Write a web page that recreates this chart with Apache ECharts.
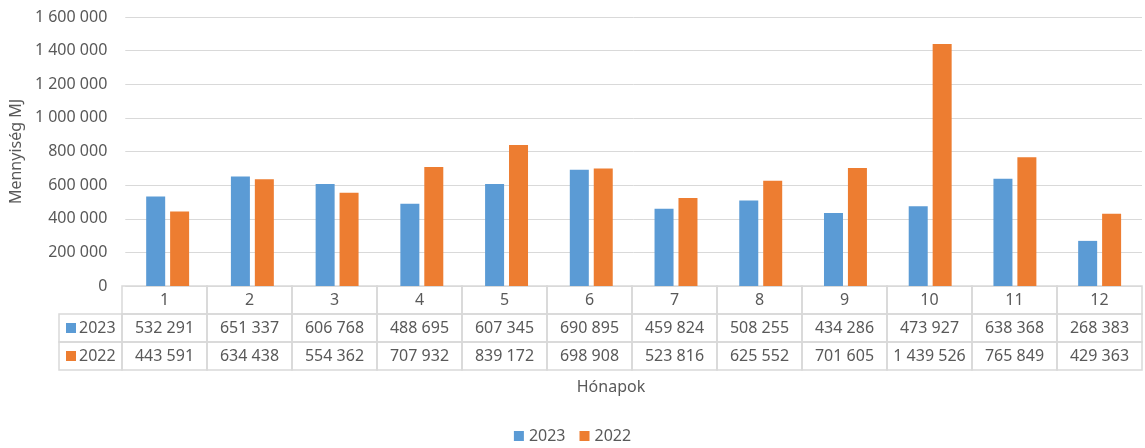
<!DOCTYPE html>
<html><head><meta charset="utf-8">
<script src="https://cdn.jsdelivr.net/npm/echarts@6/dist/echarts.min.js"></script>
<style>html,body{margin:0;padding:0;background:#fff}#c{width:1145px;height:448px}</style>
</head><body><div id="c"></div>
<script>
const months = ['1','2','3','4','5','6','7','8','9','10','11','12'];
const values2023 = [532291, 651337, 606768, 488695, 607345, 690895, 459824, 508255, 434286, 473927, 638368, 268383];
const values2022 = [443591, 634438, 554362, 707932, 839172, 698908, 523816, 625552, 701605, 1439526, 765849, 429363];
const seriesNames = ['2023', '2022'];
const yTicks = { min: 0, max: 1600000, interval: 200000 };

const FONT = 'Noto Sans';
const TXT = '#595959';
const GRID = '#d9d9d9';
const COLORS = ['#5B9BD5', '#ED7D31'];
const FS = 16;

function fmt(v) { return String(v).replace(/\B(?=(\d{3})+(?!\d))/g, ' '); }

const tableItems = [];
const tableTexts = [];
months.forEach((m, i) => {
  tableItems.push([i, 0]); tableTexts.push(m);
  tableItems.push([i, 1]); tableTexts.push(fmt(values2023[i]));
  tableItems.push([i, 2]); tableTexts.push(fmt(values2022[i]));
});

const chart = echarts.init(document.getElementById('c'));
chart.setOption({
  animation: false,
  textStyle: { fontFamily: FONT },
  grid: [
    { left: 122, right: 3, top: 17, bottom: 162 },
    { left: 122, right: 3, top: 286, height: 84 }
  ],
  title: {
    text: 'Hónapok', left: 606, top: 374, textAlign: 'center',
    textStyle: { fontFamily: FONT, fontSize: FS, fontWeight: 'normal', color: TXT }
  },
  legend: {
    data: seriesNames, bottom: -1, left: 'center', icon: 'rect', itemWidth: 10, itemHeight: 10, itemGap: 14,
    textStyle: { fontFamily: FONT, fontSize: FS, color: TXT }
  },
  xAxis: [
    { type: 'category', data: months, gridIndex: 0, axisLine: { show: false }, axisTick: { show: false }, axisLabel: { show: false } },
    { type: 'category', data: months, gridIndex: 1, axisLine: { show: false }, axisTick: { show: false }, axisLabel: { show: false } }
  ],
  yAxis: [
    {
      type: 'value', gridIndex: 0, min: yTicks.min, max: yTicks.max, interval: yTicks.interval,
      name: 'Mennyiség MJ', nameLocation: 'middle', nameGap: 101,
      nameTextStyle: { fontFamily: FONT, fontSize: FS, color: TXT },
      axisLine: { show: false }, axisTick: { show: false },
      axisLabel: { margin: 18, fontFamily: FONT, fontSize: FS, color: TXT, formatter: v => fmt(v) },
      splitLine: { lineStyle: { color: GRID, width: 1 } }
    },
    { type: 'category', gridIndex: 1, data: ['h', '2023', '2022'], inverse: true, show: false }
  ],
  series: [
    { name: seriesNames[0], type: 'bar', data: values2023, barWidth: 19, barGap: '26%', itemStyle: { color: COLORS[0] }, xAxisIndex: 0, yAxisIndex: 0 },
    { name: seriesNames[1], type: 'bar', data: values2022, barWidth: 19, barGap: '26%', itemStyle: { color: COLORS[1] }, xAxisIndex: 0, yAxisIndex: 0 },
    {
      type: 'custom', xAxisIndex: 1, yAxisIndex: 1, data: tableItems, encode: { x: 0, y: 1 }, silent: true,
      renderItem: function (params, api) {
        const xi = api.value(0), yi = api.value(1);
        const p = api.coord([xi, yi]);
        const s = api.size([1, 1]);
        const x0 = p[0] - s[0] / 2, y0 = p[1] - s[1] / 2;
        const children = [
          { type: 'rect', shape: { x: x0, y: y0, width: s[0], height: s[1] }, style: { fill: 'none', stroke: GRID, lineWidth: 1.5 } },
          { type: 'text', x: p[0], y: p[1], style: { text: tableTexts[params.dataIndex], align: 'center', verticalAlign: 'middle', fill: TXT, font: FS + 'px "' + FONT + '"' } }
        ];
        if (xi === 0 && yi > 0) {
          const lw = 63;
          children.push({ type: 'rect', shape: { x: x0 - lw, y: y0, width: lw, height: s[1] }, style: { fill: 'none', stroke: GRID, lineWidth: 1.5 } });
          children.push({ type: 'rect', shape: { x: x0 - lw + 7, y: p[1] - 5, width: 10, height: 10 }, style: { fill: COLORS[yi - 1] } });
          children.push({ type: 'text', x: x0 - lw + 20, y: p[1], style: { text: seriesNames[yi - 1], align: 'left', verticalAlign: 'middle', fill: TXT, font: FS + 'px "' + FONT + '"' } });
        }
        return { type: 'group', children: children };
      }
    }
  ]
});
</script>
</body></html>
